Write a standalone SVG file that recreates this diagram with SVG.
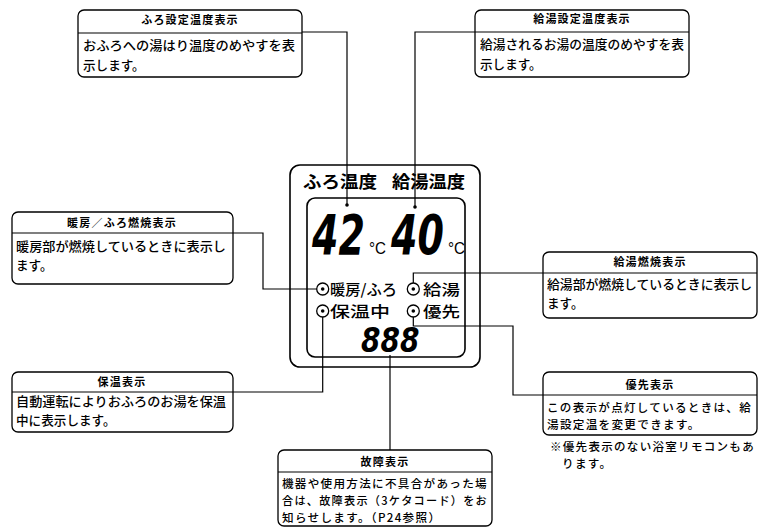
<svg xmlns="http://www.w3.org/2000/svg" width="763" height="528" viewBox="0 0 763 528">
<style>
.box{fill:#fff;stroke:#000;stroke-width:1.3}
.div{stroke:#000;stroke-width:1.1}
.t{font-family:"Noto Sans CJK JP","Noto Sans",sans-serif;font-size:11px;font-weight:700;letter-spacing:1.2px;text-anchor:middle;fill:#000}
.b{font-family:"Noto Sans CJK JP","Noto Sans",sans-serif;font-size:12.6px;font-weight:500;fill:#000}
.s{font-family:"Noto Sans CJK JP","Noto Sans",sans-serif;font-size:11.6px;font-weight:500;letter-spacing:1.3px;fill:#000}
.lead{fill:none;stroke:#000;stroke-width:1.2}
.disp{fill:none;stroke:#000;stroke-width:1.6}
.lbl{font-family:"Noto Sans CJK JP","Noto Sans",sans-serif;font-size:15px;font-weight:500;fill:#000}
.hd{font-family:"Noto Sans CJK JP","Noto Sans",sans-serif;font-size:17.5px;font-weight:700;fill:#000}
.dig{font-family:"DejaVu Sans",sans-serif;font-style:oblique;font-weight:700;fill:#000}
.deg{font-family:"Liberation Sans",sans-serif;font-size:16px;fill:#000}
.ind{fill:#fff;stroke:#000;stroke-width:1.3}
</style>

<g id="display">
  <rect class="disp" x="290" y="165" width="190" height="202" rx="10"/>
  <rect class="disp" x="307" y="198" width="158" height="159" rx="8"/>
  <text class="hd" x="303" y="188" textLength="74" lengthAdjust="spacingAndGlyphs">ふろ温度</text>
  <text class="hd" x="392" y="188" textLength="73" lengthAdjust="spacingAndGlyphs">給湯温度</text>
  <text class="dig" font-size="38" transform="translate(312,254) scale(1,1.43)">42</text>
  <text class="deg" x="369" y="254" textLength="17" lengthAdjust="spacingAndGlyphs">°C</text>
  <text class="dig" font-size="38" transform="translate(391,254) scale(1,1.43)">40</text>
  <text class="deg" x="448" y="254" textLength="17" lengthAdjust="spacingAndGlyphs">°C</text>
  <circle class="ind" cx="322.7" cy="289" r="6"/><circle cx="322.7" cy="289" r="1.8"/>
  <circle class="ind" cx="413.3" cy="289" r="6"/><circle cx="413.3" cy="289" r="1.8"/>
  <circle class="ind" cx="322.7" cy="311" r="6"/><circle cx="322.7" cy="311" r="1.8"/>
  <circle class="ind" cx="413.3" cy="311" r="6"/><circle cx="413.3" cy="311" r="1.8"/>
  <text class="lbl" x="330" y="294.5" textLength="67" lengthAdjust="spacingAndGlyphs">暖房/ふろ</text>
  <text class="lbl" x="423" y="294.5" textLength="37" lengthAdjust="spacingAndGlyphs">給湯</text>
  <text class="lbl" x="330" y="316.5" textLength="60" lengthAdjust="spacingAndGlyphs">保温中</text>
  <text class="lbl" x="423" y="316.5" textLength="37" lengthAdjust="spacingAndGlyphs">優先</text>
  <text class="dig" font-size="28" transform="translate(361,352) scale(1,1.18)">888</text>
  <circle cx="347" cy="205" r="1.8"/>
  <circle cx="415" cy="207" r="1.8"/>
</g>

<g id="connectors">
  <polyline class="lead" points="302,32 347,32 347,205"/>
  <polyline class="lead" points="475,32 415,32 415,207"/>
  <polyline class="lead" points="233,233 263,233 263,289 316.7,289"/>
  <polyline class="lead" points="413.3,283 413.3,273 543,273"/>
  <polyline class="lead" points="322.7,317 322.7,392 233,392"/>
  <polyline class="lead" points="413.3,317 413.3,326 513,326 513,395 543,395"/>
  <polyline class="lead" points="390,355 390,450"/>
</g>

<g id="n-furo-set">
  <rect class="box" x="78" y="10" width="224" height="67" rx="6"/>
  <line class="div" x1="78" y1="33" x2="302" y2="33"/>
  <text class="t" x="190" y="24">ふろ設定温度表示</text>
  <text class="b" x="83" y="50" textLength="212" lengthAdjust="spacingAndGlyphs">おふろへの湯はり温度のめやすを表</text>
  <text class="b" x="83" y="70">示します。</text>
</g>

<g id="n-kyuto-set">
  <rect class="box" x="475" y="10" width="214" height="67" rx="6"/>
  <line class="div" x1="475" y1="32" x2="689" y2="32"/>
  <text class="t" x="582" y="23">給湯設定温度表示</text>
  <text class="b" x="480" y="49" textLength="204" lengthAdjust="spacingAndGlyphs">給湯されるお湯の温度のめやすを表</text>
  <text class="b" x="480" y="69">示します。</text>
</g>

<g id="n-danbo">
  <rect class="box" x="12" y="212" width="221" height="72" rx="6"/>
  <line class="div" x1="12" y1="233" x2="233" y2="233"/>
  <text class="t" x="122" y="227">暖房／ふろ燃焼表示</text>
  <text class="b" x="16" y="251" textLength="210" lengthAdjust="spacingAndGlyphs">暖房部が燃焼しているときに表示し</text>
  <text class="b" x="16" y="270">ます。</text>
</g>

<g id="n-kyuto-burn">
  <rect class="box" x="543" y="252" width="214" height="66" rx="6"/>
  <line class="div" x1="543" y1="273" x2="757" y2="273"/>
  <text class="t" x="650" y="266">給湯燃焼表示</text>
  <text class="b" x="547" y="289" textLength="205" lengthAdjust="spacingAndGlyphs">給湯部が燃焼しているときに表示し</text>
  <text class="b" x="547" y="308">ます。</text>
</g>

<g id="n-hoon">
  <rect class="box" x="12" y="372" width="221" height="60" rx="6"/>
  <line class="div" x1="12" y1="392" x2="233" y2="392"/>
  <text class="t" x="122" y="386">保温表示</text>
  <text class="b" x="16" y="406" textLength="210" lengthAdjust="spacingAndGlyphs">自動運転によりおふろのお湯を保温</text>
  <text class="b" x="16" y="425">中に表示します。</text>
</g>

<g id="n-yusen">
  <rect class="box" x="543" y="372" width="214" height="63" rx="6"/>
  <line class="div" x1="543" y1="395" x2="757" y2="395"/>
  <text class="t" x="650" y="389">優先表示</text>
  <text class="s" x="547" y="412" textLength="205" lengthAdjust="spacingAndGlyphs">この表示が点灯しているときは、給</text>
  <text class="s" x="547" y="429">湯設定温を変更できます。</text>
  <text class="s" x="550" y="451" textLength="205" lengthAdjust="spacingAndGlyphs">※優先表示のない浴室リモコンもあ</text>
  <text class="s" x="562" y="468">ります。</text>
</g>

<g id="n-kosho">
  <rect class="box" x="278" y="450" width="214" height="76" rx="6"/>
  <line class="div" x1="278" y1="472" x2="492" y2="472"/>
  <text class="t" x="385" y="466">故障表示</text>
  <text class="s" x="282" y="488" textLength="206" lengthAdjust="spacingAndGlyphs">機器や使用方法に不具合があった場</text>
  <text class="s" x="282" y="505" textLength="206" lengthAdjust="spacingAndGlyphs">合は、故障表示（3ケタコード）をお</text>
  <text class="s" x="282" y="522">知らせします。（P24参照）</text>
</g>
</svg>
